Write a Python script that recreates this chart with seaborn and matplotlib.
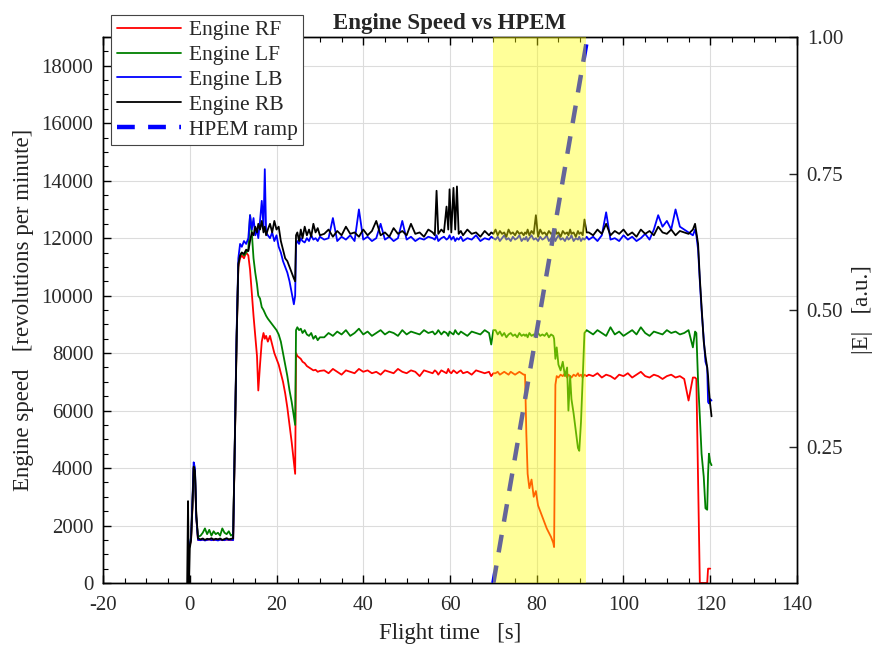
import numpy as np
import pandas as pd
import matplotlib
matplotlib.use("Agg")
import matplotlib.pyplot as plt
import seaborn as sns
from matplotlib.ticker import MultipleLocator, FixedLocator, FormatStrFormatter

nan = np.nan

# ------------------------------------------------------------------ data
engines = ["Engine RF", "Engine LF", "Engine LB", "Engine RB"]
engine_colors = ["#ff0000", "#008000", "#0000ff", "#000000"]

# launch phase
t_launch = [-0.6, -0.4, -0.2, 0.0, 0.3, 0.6, 0.9, 1.2, 1.5, 1.9,
            2.5, 3.0, 3.5, 4.0, 4.5, 5.0, 5.5, 6.0, 6.5, 7.0, 7.5, 8.0, 8.5, 9.0, 9.5, 10.0,
            10.4, 10.8, 11.2, 11.6, 12.0, 12.5, 13.0, 13.5, 13.9, 14.3, 14.7, 15.1, 15.5, 15.8,
            16.2, 16.6, 17.0, 17.3, 17.6, 18.0, 18.5, 19.0, 19.5, 20.0, 20.5, 21.0, 21.5, 22.0,
            22.5, 23.0, 23.5, 24.0, 24.3, 24.5, 24.8, 25.2, 25.6, 26.0, 26.5, 27.0, 27.5, 28.0,
            28.5, 29.0, 29.5, 30.0]
rf_launch = [nan, nan, nan, 1300, 1500, 2600, 4000, 3800, 2300, 1500,
             1500, 1510, 1490, 1500, 1520, 1500, 1490, 1510, 1500, 1520, 1490, 1500, 1510, 1500, 1490, 1520,
             4900, 8500, 11000, 11300, 11400, 11300, 11500, 11400, 10900, 10100, 9300, 8600, 7900, 6700,
             7600, 8400, 8700, 8500, 8600, 8400, 8600, 8300, 8000, 7800, 7600, 7300, 7000, 6600,
             6100, 5500, 4900, 4200, 3800, 8000, 7900, 7850, 7800, 7700, 7650, 7550, 7500, 7450,
             7400, 7420, 7350, 7380]
lf_launch = [nan, nan, nan, 1300, 1600, 2700, 4000, 3900, 2300, 1600,
             1650, 1750, 1900, 1700, 1850, 1650, 1800, 1700, 1750, 1650, 1900, 1750, 1700, 1800, 1650, 1700,
             5000, 8600, 11100, 11400, 11500, 11400, 11500, 11600, 12800, 12200, 11300, 10800, 10400, 10000,
             9900, 9600, 9500, 9400, 9300, 9200, 9100, 9000, 8900, 8800, 8650, 8400, 8000, 7600,
             7200, 6700, 6300, 5800, 5500, 8800, 8900, 8800, 8850, 8700, 8800, 8650, 8600, 8700,
             8500, 8600, 8450, 8550]
lb_launch = [nan, nan, nan, 1300, 1600, 2800, 4200, 4000, 2300, 1500,
             1490, 1510, 1480, 1500, 1520, 1490, 1510, 1500, 1480, 1510, 1500, 1490, 1520, 1500, 1510, 1490,
             5100, 8700, 11300, 11800, 11700, 11900, 11800, 12000, 12800, 12300, 12700, 12100, 12300, 12000,
             12600, 13300, 12400, 14400, 12200, 12100, 12000, 12200, 11900, 12100, 11700, 11500, 11200, 11000,
             10800, 10500, 10100, 9700, 10000, 11800, 11900, 11800, 12000, 11900, 11850, 12000, 11900, 12100,
             11950, 12000, 11900, 12050]
rb_launch = [0, 2850, 0, 1200, 1500, 2600, 4050, 3900, 2400, 1550,
             1520, 1550, 1500, 1540, 1520, 1560, 1510, 1540, 1520, 1550, 1500, 1530, 1560, 1520, 1540, 1550,
             4900, 8400, 11100, 11400, 11500, 11450, 11600, 11550, 11900, 12200, 12100, 12400, 12200, 12500,
             12300, 12600, 12200, 12400, 12100, 12300, 12500, 12200, 12600, 12300, 12400, 11900, 11600, 11300,
             11200, 11000, 10800, 10600, 10500, 12100, 12200, 11900, 12300, 12000, 12400, 12100, 12300, 12050,
             12500, 12200, 12350, 12100]

# cruise before HPEM
t_cruise1 = [31, 32, 33, 34, 35, 36, 37, 38, 39, 40, 41, 42, 43,
             44, 45, 46, 47, 48, 49, 50, 51, 52, 53, 54, 55,
             56.0, 56.5, 56.9, 57.3, 58.0, 58.6, 59.2, 59.6, 59.9, 60.3, 60.8, 61.2,
             61.6, 62.0, 62.5, 63, 64, 65, 66, 67, 68, 69, 69.5, 70.0]
rf_cruise1 = [7400, 7300, 7450, 7350, 7250, 7400, 7350, 7300, 7450, 7350, 7400, 7300, 7350,
              7250, 7400, 7350, 7300, 7450, 7350, 7300, 7400, 7350, 7200, 7400, 7350,
              7300, 7400, 7350, 7250, 7400, 7350, 7300, 7450, 7350, 7300, 7400, 7350,
              7300, 7350, 7400, 7300, 7350, 7250, 7400, 7350, 7300, 7350, 7200, 7300]
lf_cruise1 = [8550, 8700, 8600, 8750, 8650, 8800, 8600, 8700, 8850, 8650, 8750, 8600, 8700,
              8800, 8650, 8750, 8700, 8600, 8800, 8650, 8750, 8700, 8650, 8800, 8700,
              8750, 8650, 8700, 8800, 8650, 8750, 8700, 8600, 8750, 8700, 8650, 8800,
              8700, 8650, 8750, 8700, 8600, 8750, 8700, 8650, 8800, 8700, 8300, 8800]
lb_cruise1 = [11950, 12000, 12700, 11900, 12050, 11950, 12100, 11900, 13000, 11950, 12050, 11900, 12000,
              12500, 11950, 12050, 11900, 12000, 12600, 11950, 12050, 11900, 12000, 11950, 12050,
              12000, 11950, 12100, 11900, 12000, 12050, 11950, 12000, 12100, 11950, 12050, 11900,
              12000, 11950, 12050, 11900, 12000, 11950, 12100, 11900, 12000, 11950, 12050, 12000]
rb_cruise1 = [12150, 12300, 12050, 12250, 12100, 12400, 12150, 12200, 12050, 12300, 12100, 12250, 12600,
              12100, 12200, 12050, 12350, 12150, 12250, 12100, 12500, 12150, 12200, 12050, 12300,
              12200, 12100, 13650, 12150, 12300, 12200, 13100, 12300, 13700, 12200, 13750, 12300,
              13800, 12150, 12250, 12100, 12300, 12150, 12200, 12050, 12250, 12100, 12200, 12150]

# HPEM exposure window
t_hpem = [70.5, 71.0, 71.5, 72.0, 72.5, 73.0, 73.5, 74.0, 74.5, 75.0, 75.5, 76.0, 76.5, 77.0,
          77.3, 77.6, 77.9, 78.3, 78.8, 79.3, 79.8, 80.3, 80.8, 81.3, 81.8, 82.3,
          82.8, 83.3, 83.8, 84.0, 84.3, 84.6, 85.0, 85.5, 86.0, 86.5, 87.0, 87.3,
          87.7, 88.0, 88.5, 89.0, 89.5, 89.8, 90.2, 90.6, 91.0, 91.5]
rf_hpem = [7300, 7350, 7250, 7300, 7350, 7300, 7250, 7350, 7300, 7250, 7300, 7350, 7300, 7250,
           7250, 5200, 3800, 3300, 3600, 3000, 3200, 2700, 2500, 2300, 2100, 1900,
           1750, 1600, 1400, 1250, 6900, 7200, 7150, 7250, 7200, 7300, 7150, 7250,
           7200, 7150, 7250, 7200, 7300, 7200, 7250, 7150, 7250, 7200]
lf_hpem = [8800, 8650, 8750, 8600, 8700, 8550, 8650, 8700, 8600, 8650, 8550, 8700, 8600, 8650,
           8600, 8650, 8550, 8700, 8600, 8650, 8550, 8700, 8600, 8650, 8600, 8700,
           8550, 8650, 8600, 8500, 7800, 8200, 7600, 7400, 7700, 7200, 7500, 6000,
           7200, 6400, 5900, 5300, 4700, 4600, 5600, 7200, 8700, 8800]
lb_hpem = [11950, 12050, 11900, 12000, 12100, 11950, 12000, 11900, 12050, 11950, 12000, 12100, 11900, 12000,
           11950, 12050, 11900, 12000, 12100, 11950, 12000, 11900, 12050, 11950, 12000, 12100,
           11900, 12000, 11950, 12050, 11900, 12000, 12100, 11950, 12000, 11900, 12050, 11950,
           12000, 12100, 11900, 12000, 11950, 12050, 11900, 12000, 11950, 12050]
rb_hpem = [12300, 12100, 12250, 12150, 12200, 12050, 12300, 12150, 12200, 12100, 12250, 12150, 12200, 12100,
           12200, 12150, 12300, 12100, 12250, 12150, 12800, 12050, 12300, 12150, 12200, 12100,
           12250, 12150, 12200, 12100, 12300, 12150, 12200, 12050, 12250, 12150, 12200, 12100,
           12300, 12150, 12200, 12050, 12250, 12150, 12200, 12100, 12650, 12200]

# cruise after HPEM
t_cruise2 = [92, 93, 94, 95, 96, 97, 98, 99, 100, 101, 102, 103, 104,
             105, 106, 107, 108, 109, 110, 111, 112, 113, 114, 115, 116]
rf_cruise2 = [7250, 7200, 7300, 7150, 7250, 7200, 7100, 7250, 7200, 7300, 7150, 7250, 7350,
              7200, 7150, 7250, 7200, 7100, 7200, 7250, 7150, 7200, 7100, 6350, 7150]
lf_cruise2 = [8750, 8650, 8800, 8700, 8600, 8900, 8650, 8750, 8600, 8700, 8800, 8650, 8900,
              8700, 8600, 8750, 8700, 8650, 8800, 8700, 8750, 8650, 8700, 8800, 8200]
lb_cruise2 = [11950, 12050, 11900, 12100, 12900, 11950, 12000, 11900, 12100, 11950, 12050, 11900, 12000,
              12150, 11950, 12300, 12800, 12400, 12600, 12300, 13000, 12400, 12300, 12200, 12100]
rb_cruise2 = [12200, 12100, 12300, 12150, 12500, 12100, 12250, 12150, 12300, 12100, 12200, 12050, 12300,
              12150, 12250, 12100, 12400, 12200, 12150, 12300, 12100, 12250, 12200, 12150, 12300]

# landing
t_landing = [116.5, 116.8, 117.2, 117.6, 118.0, 118.5, 118.9, 119.3, 119.5, 119.7, 120.0, 120.3]
rf_landing = [7150, 7100, 3600, 0, 0, 0, 0, 0, 500, 500, 500, nan]
lf_landing = [8750, 8700, 7000, 5800, 4500, 3700, 2600, 2550, 3800, 4500, 4200, 4100]
lb_landing = [12300, 12100, 11600, 10500, 9500, 8500, 7700, 7500, 6300, 6250, 6400, 6350]
rb_landing = [12500, 12200, 11800, 10600, 9600, 8400, 7900, 7500, 7200, 6700, 6200, 5800]

# HPEM field ramp (right axis) and exposure window
ramp_t = [70.0, 91.7]
ramp_e = [0.0, 1.0]
hpem_window = [70.0, 91.4]

# ------------------------------------------------------------------ table
t_all = t_launch + t_cruise1 + t_hpem + t_cruise2 + t_landing
series = {
    "Engine RF": rf_launch + rf_cruise1 + rf_hpem + rf_cruise2 + rf_landing,
    "Engine LF": lf_launch + lf_cruise1 + lf_hpem + lf_cruise2 + lf_landing,
    "Engine LB": lb_launch + lb_cruise1 + lb_hpem + lb_cruise2 + lb_landing,
    "Engine RB": rb_launch + rb_cruise1 + rb_hpem + rb_cruise2 + rb_landing,
}
frames = []
for name, vals in series.items():
    frames.append(pd.DataFrame({"time": t_all, "speed": vals, "engine": name}))
df = pd.concat(frames, ignore_index=True).dropna()
ramp_df = pd.DataFrame({"time": ramp_t, "E": ramp_e})

# ------------------------------------------------------------------ style
sns.set_theme(style="ticks")
plt.rcParams["font.family"] = ["Liberation Serif", "DejaVu Serif"]
plt.rcParams["axes.unicode_minus"] = False

fig = plt.figure(figsize=(8.76, 6.46), dpi=100)
ax = fig.add_axes([0.1176, 0.0975, 0.7922, 0.8452])

for name, col in zip(engines, engine_colors):
    sns.lineplot(data=df[df["engine"] == name], x="time", y="speed", ax=ax,
                 color=col, lw=1.3, estimator=None, sort=False, legend=False,
                 label=name)

ax.set_xlim(-20, 140)
ax.set_ylim(0, 19000)
ax.xaxis.set_major_locator(MultipleLocator(20))
ax.xaxis.set_minor_locator(MultipleLocator(5))
ax.yaxis.set_major_locator(FixedLocator(list(range(0, 18001, 2000))))
ax.yaxis.set_minor_locator(MultipleLocator(500))
ax.grid(True, which="major", color="#dcdcdc", lw=0.8)
ax.set_axisbelow(True)

tick_col = "#2a2a2a"
ax.tick_params(axis="both", which="both", direction="in", labelsize=15,
               labelcolor=tick_col, color="black")
ax.tick_params(axis="x", which="both", top=True)
ax.tick_params(axis="x", which="major", pad=9)
ax.tick_params(axis="y", which="major", pad=7)
ax.tick_params(which="major", length=6, width=1.0)
ax.tick_params(which="minor", length=3.5, width=0.8)
for s in ax.spines.values():
    s.set_color("black")
    s.set_linewidth(1.0)

ax.set_xlabel("Flight time   [s]", fontsize=16.5, color="#222222", labelpad=6)
ax.set_ylabel("Engine speed   [revolutions per minute]", fontsize=16.5,
              color="#222222", labelpad=5)
ax.set_title("Engine Speed vs HPEM", fontsize=16.5, fontweight="bold", pad=6)

# right axis: HPEM ramp
ax2 = ax.twinx()
sns.lineplot(data=ramp_df, x="time", y="E", ax=ax2, color="#0000ff", lw=3.2,
             estimator=None, sort=False, legend=False, label="HPEM ramp")
ramp_line = ax2.get_lines()[-1]
ramp_line.set_linestyle((0, (4, 3)))
ax2.axvspan(hpem_window[0], hpem_window[1], color="#ffff00", alpha=0.4,
            lw=0, zorder=3)
ax2.set_ylim(0, 1.0)
ax2.yaxis.set_major_locator(FixedLocator([0.25, 0.5, 0.75, 1.0]))
ax2.yaxis.set_major_formatter(FormatStrFormatter("%.2f"))
ax2.tick_params(axis="y", which="major", direction="in", length=6, width=1.0,
                labelsize=15, labelcolor=tick_col, pad=7)
ax2.set_ylabel("|E|   [a.u.]", fontsize=16.5, color="#222222", labelpad=6)
for s in ax2.spines.values():
    s.set_color("black")
    s.set_linewidth(1.0)

handles = ax.get_lines()[:4] + [ramp_line]
labels = engines + ["HPEM ramp"]
leg = ax2.legend(handles, labels, loc="upper left",
                 bbox_to_anchor=(0.127, 0.977), bbox_transform=fig.transFigure,
                 fontsize=15.5, frameon=True, fancybox=False, framealpha=1.0,
                 edgecolor="#444444", handlelength=3.0, handletextpad=0.35,
                 labelspacing=0.22, borderpad=0.25, borderaxespad=0)
leg.get_frame().set_linewidth(0.8)
leg.set_zorder(10)

fig.savefig("out.png", dpi=100)
